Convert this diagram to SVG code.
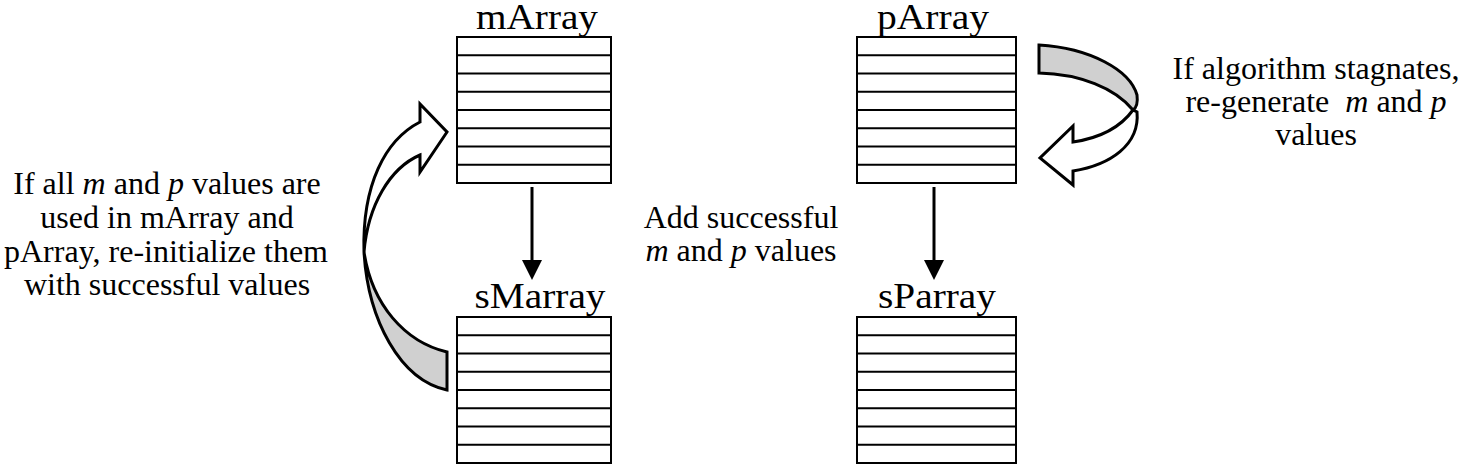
<svg xmlns="http://www.w3.org/2000/svg" width="1459" height="465" viewBox="0 0 1459 465">
<style>
.box{fill:#fff;stroke:#000;stroke-width:2}
.row{stroke:#000;stroke-width:2}
.lbl{font-family:"Liberation Serif","Times New Roman",serif;font-size:35px;fill:#000;text-anchor:middle}
.txt{font-family:"Liberation Serif","Times New Roman",serif;font-size:32px;fill:#000;text-anchor:middle}
.it{font-style:italic}
.conn{stroke:#000;stroke-width:3;fill:none}
.head{fill:#000}
.blk{stroke:#000;stroke-width:3;stroke-linejoin:miter}
.grey{fill:#d0d0d0}
.white{fill:#fff}
</style>
<rect width="1459" height="465" fill="#fff"/>

<g id="mArray">
<text class="lbl" x="537" y="29" textLength="122" lengthAdjust="spacingAndGlyphs">mArray</text>
<rect class="box" x="457" y="37" width="154" height="146"/>
<path class="row" d="M457 55.25H611M457 73.5H611M457 91.75H611M457 110H611M457 128.25H611M457 146.5H611M457 164.75H611"/>
</g>

<g id="sMarray">
<text class="lbl" x="540" y="308" textLength="131" lengthAdjust="spacingAndGlyphs">sMarray</text>
<rect class="box" x="457" y="317" width="154" height="146"/>
<path class="row" d="M457 335.25H611M457 353.5H611M457 371.75H611M457 390H611M457 408.25H611M457 426.5H611M457 444.75H611"/>
</g>

<g id="pArray">
<text class="lbl" x="933" y="29" textLength="112" lengthAdjust="spacingAndGlyphs">pArray</text>
<rect class="box" x="857" y="37" width="159" height="146"/>
<path class="row" d="M857 55.25H1016M857 73.5H1016M857 91.75H1016M857 110H1016M857 128.25H1016M857 146.5H1016M857 164.75H1016"/>
</g>

<g id="sParray">
<text class="lbl" x="937" y="308" textLength="118" lengthAdjust="spacingAndGlyphs">sParray</text>
<rect class="box" x="857" y="317" width="159" height="146"/>
<path class="row" d="M857 335.25H1016M857 353.5H1016M857 371.75H1016M857 390H1016M857 408.25H1016M857 426.5H1016M857 444.75H1016"/>
</g>

<g id="connectors">
<line class="conn" x1="532" y1="187" x2="532" y2="262"/>
<polygon class="head" points="522,260 542,260 532,280"/>
<line class="conn" x1="934" y1="187" x2="934" y2="262"/>
<polygon class="head" points="924,260 944,260 934,280"/>
<g id="reinit-arrow">
<path class="blk grey" d="M364,252 C368,320 400,380 447,390 L447,352 C405,342 372,305 364,252 Z"/>
<path class="blk white" d="M364,252 C362,185 385,140 420,122 L420,104 L447,132 L420,172 L420,155 C390,168 368,205 364,252 Z"/>
</g>
<g id="regen-arrow">
<path class="blk grey" d="M1039,45 C1090,48 1130,70 1137,95 C1138,103 1136,108 1133,110 C1115,88 1080,74 1039,73 Z"/>
<path class="blk white" d="M1133,110 C1120,128 1100,138 1073,142 L1073,126 L1040,158 L1073,185 L1073,171 C1110,165 1140,145 1137,112 Z"/>
</g>
</g>

<g id="label-left">
<text class="txt" x="167" y="194">If all <tspan class="it">m</tspan> and <tspan class="it">p</tspan> values are</text>
<text class="txt" x="167" y="228">used in mArray and</text>
<text class="txt" x="166" y="262">pArray, re-initialize them</text>
<text class="txt" x="167" y="295">with successful values</text>
</g>

<g id="label-mid">
<text class="txt" x="741" y="228">Add successful</text>
<text class="txt" x="741" y="261"><tspan class="it">m</tspan> and <tspan class="it">p</tspan> values</text>
</g>

<g id="label-right">
<text class="txt" x="1316" y="79">If algorithm stagnates,</text>
<text class="txt" x="1316" y="112">re-generate&#160; <tspan class="it">m</tspan> and <tspan class="it">p</tspan></text>
<text class="txt" x="1316" y="145">values</text>
</g>
</svg>
